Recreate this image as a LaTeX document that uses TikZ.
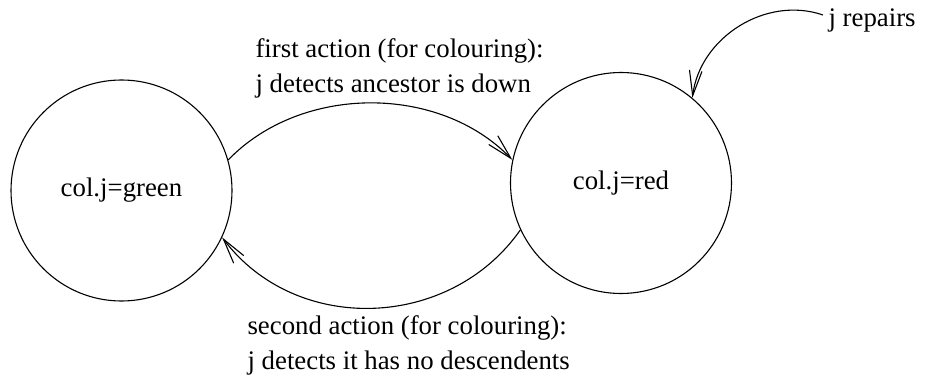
\documentclass[tikz,border=0pt]{standalone}
\usepackage{fontspec}
\setmainfont{Liberation Serif}
\usetikzlibrary{arrows.meta}
\begin{document}
\begin{tikzpicture}[x=1pt,y=-1pt, line width=1.1pt,
  state/.style={circle, draw, minimum size=221pt, inner sep=0pt, font=\fontsize{26.8}{35}\selectfont},
  lbl/.style={font=\fontsize{26.8}{35}\selectfont, inner sep=0pt},
  tr/.style={-{Straight Barb[angle=28:26pt]}}]
\useasboundingbox (0,0) rectangle (927,377);
\node[state] (g) at (121.5,190.5) {col.j=green};
\node[state] (r) at (621,183) {col.j=red};
\node[lbl, align=left, anchor=base west] (top) at (255,93) {first action (for colouring):\\j detects ancestor is down};
\node[lbl, align=left, anchor=base west] (bot) at (247,369) {second action (for colouring):\\j detects it has no descendents};
\node[lbl, anchor=base west] (rep) at (828,27) {j repairs};
\coordinate (rs) at (823,15);
\draw[tr] (g.16.5) to[out=46,in=134,looseness=0.95] (r.168);
\draw[tr] (r.205) to[out=235,in=307,looseness=1.05] (g.335);
\draw[tr] (rs) to[out=161,in=83] (r.50.5);
\end{tikzpicture}
\end{document}
